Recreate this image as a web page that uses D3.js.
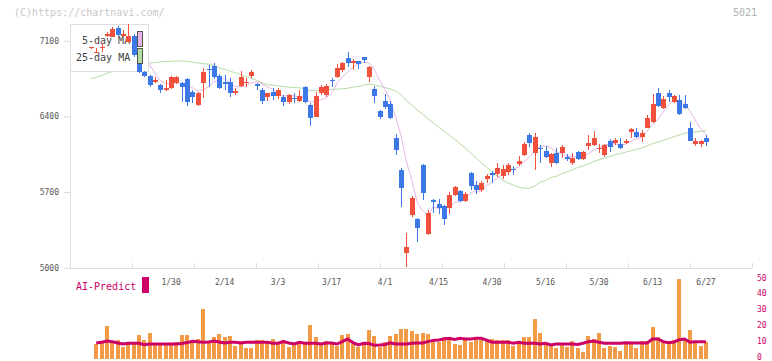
<!DOCTYPE html>
<html>
<head>
<meta charset="utf-8">
<script src="https://cdn.jsdelivr.net/npm/d3@7"></script>
<style>
body { margin: 0; background: #fff; }
text { font-family: "DejaVu Sans Mono", monospace; }
</style>
</head>
<body>
<div id="chart"></div>
<script>
// daily candles, 1/10 .. 6/27 (index 15 = 1/30)
var opens = [7030,6990,7035,7145,7137,7215,7140,7090,7143,6980,
  6813,6776,6720,6690,6645,6660,6710,6711,6746,6628,
  6505,6711,6840,6866,6773,6715,6721,6613,6680,6705,
  6773,6700,6644,6575,6628,6591,6582,6536,6573,6545,
  6668,6505,6397,6619,6600,6740,6767,6829,6937,6890,
  6910,6947,6767,6653,6450,6542,6510,6197,5904,5139,
  5488,5451,5950,5312,5630,5590,5570,5555,5673,5710,
  5617,5879,5765,5719,5820,5872,5867,5848,5888,5910,
  5959,6043,6228,6058,6110,6080,5966,6064,6064,6027,
  5966,6073,6003,6130,6135,6100,6043,6175,6156,6144,
  6156,6258,6258,6212,6295,6350,6613,6480,6613,6536,
  6551,6514,6290,6144,6140,6197];
var highs = [7045,7033,7080,7180,7224,7236,7200,7250,7162,6990,
  6820,6785,6760,6700,6735,6775,6775,6720,6755,6640,
  6630,6847,6875,6890,6790,6782,6752,6660,6822,6752,
  6829,6710,6660,6620,6660,6660,6600,6610,6613,6644,
  6680,6520,6628,6690,6700,6758,6881,6900,6998,6930,
  6912,6950,6870,6684,6455,6607,6542,6234,5925,5318,
  5666,5460,5955,5534,5635,5635,5580,5703,5760,5720,
  5700,5885,5802,5800,5867,5897,5971,5950,5971,5940,
  6033,6163,6249,6249,6135,6126,6058,6105,6135,6052,
  6058,6080,6080,6228,6265,6144,6140,6188,6200,6200,
  6188,6295,6295,6274,6412,6607,6660,6585,6644,6595,
  6597,6597,6350,6197,6185,6228];
var lows = [7025,6985,6995,7135,7130,7145,7130,7085,6950,6800,
  6765,6675,6705,6615,6635,6650,6700,6536,6499,6526,
  6500,6570,6675,6745,6650,6644,6582,6600,6674,6668,
  6752,6640,6510,6545,6555,6560,6500,6510,6526,6536,
  6520,6314,6390,6600,6582,6675,6752,6810,6860,6830,
  6840,6890,6720,6526,6375,6465,6375,6043,5564,5009,
  5472,5240,5626,5305,5509,5497,5395,5497,5666,5610,
  5610,5719,5682,5700,5786,5786,5842,5820,5857,5860,
  5940,6033,6113,5904,5971,6012,5929,5960,6012,5990,
  5950,5995,5995,6089,6130,6064,6027,6073,6135,6095,
  6140,6203,6200,6163,6290,6340,6484,6465,6536,6525,
  6412,6465,6170,6126,6120,6126];
var closes = [7040,7000,7045,7165,7205,7153,7160,7140,6967,6815,
  6776,6690,6735,6640,6665,6767,6767,6674,6536,6582,
  6619,6808,6825,6767,6660,6700,6613,6637,6760,6715,
  6813,6680,6545,6613,6591,6644,6536,6598,6563,6591,
  6536,6387,6588,6668,6680,6730,6850,6897,6890,6915,
  6887,6920,6857,6591,6397,6489,6387,6089,5740,5194,
  5648,5365,5694,5509,5605,5550,5450,5673,5749,5617,
  5682,5759,5719,5786,5848,5862,5920,5910,5950,5900,
  5990,6144,6156,6212,6100,6027,6052,5966,6114,6003,
  6018,6003,6073,6156,6197,6110,6135,6119,6181,6110,
  6175,6280,6212,6249,6388,6514,6496,6558,6576,6588,
  6419,6474,6175,6175,6170,6166];

// lower panel
var volumes = [null,9.1,9.9,20.4,10.6,11.6,7.4,9.1,9.6,14.8,
  11.6,16,9.1,9.1,9.1,9.1,10.2,14.8,14.8,11,
  12.3,31.1,10.2,13.7,15.4,13.7,14.2,8.1,11,6.8,
  6.8,11.6,11.6,9.6,12.3,10.6,11.6,7.4,8.5,9.6,
  9.6,21,13.7,9.1,11,10.2,7.8,14.8,15.4,9.1,
  7.4,9.6,17.9,14.2,7.4,10.2,14.2,15.4,18.6,18.6,
  17.4,15.4,16.3,15.4,11,10.6,13.7,13.7,9.1,8.5,
  11.6,10.6,12.7,13.7,11.6,12.3,11.6,11.6,11.6,8.1,
  9.1,13.7,13.7,24.8,16.3,9.6,8.5,6.8,8.5,7.4,
  11,6.8,3.9,14.2,12.3,15.8,6.4,7.9,7.4,4.9,
  9.1,9.1,6.8,11,11,20,13.7,10.6,9.9,11.6,
  50,12.3,17.9,10.2,8.1,10.2];
var aiPredict = [null,9.8,10.2,11,10.6,9.8,9.1,9.6,9.6,9.6,
  8.7,9.1,9.1,9.1,9.1,9.1,9.1,9.4,10,10.8,
  10.6,10.2,10.4,11,10.4,9.8,10.2,10.2,9.8,10.2,
  10.2,10.2,10.2,10.2,9.6,9.6,10.6,9.8,9.1,10.2,
  9.6,9.6,9.6,9.1,9.8,9.8,9.1,10.6,12.3,10,
  8.5,9.6,9.4,8.3,8.5,8.8,9.8,9.1,9.1,9.1,
  9.6,9.8,9.8,10.6,11.4,11.6,12.3,12.7,12,12.7,
  12.3,12.3,12.7,12.7,11.6,10.2,10.2,10.2,10.2,9.6,
  10.2,9.6,9.6,9.6,9.1,9.6,8.5,9.1,9.1,9.1,
  9.1,8.8,9.6,10.6,11,10.2,9.6,9.6,9.6,9.6,
  9.9,9.8,9.8,9.8,9.8,12.3,12.3,10.6,9.9,10.4,
  11.8,12.3,10.2,10.6,10.6,10.6];

// 25-day MA for the first days (earlier closes are off the chart)
var ma25Head = [6750,6761,6778,6797,6815,6830,6840,6850,6860,6870,
  6880,6894,6898,6903,6907,6909,6912,6912,6909,6903,6894,6889,6882,6875];

var dateLabels = ["1/30","2/14","3/3","3/17","4/1","4/15","4/30","5/16","5/30","6/13","6/27"];
var dateIdx = [15,25,35,45,55,65,75,85,95,105,115];
var priceTicks = [5000,5700,6400,7100];
var volTicks = [0,10,20,30,40,50];

var W = 772, H = 361;
var plot = { left: 70, right: 752, top: 24, bottom: 268 };
var upColor = "#f0503c", downColor = "#3c78e8";
var aiColor = "#cc0066";

function movingAvg(n, head) {
    return closes.map(function(c, i) {
        if (i < n - 1) return head ? head[i] : null;
        return d3.mean(closes.slice(i - n + 1, i + 1));
    });
}
var ma5 = movingAvg(5, null);
var ma25 = movingAvg(25, ma25Head);

var x = d3.scaleLinear().domain([-3.9, 123.6]).range([plot.left, plot.right]);
var y = d3.scaleLinear().domain([5000, 7100]).range([267.7, 40.7]);
var v = d3.scaleLinear().domain([0, 50]).range([358.5, 279]);
var gridX = d3.scaleLinear().domain([0, 11]).range([plot.left, plot.right]);

var svg = d3.select("#chart").append("svg")
    .attr("width", W)
    .attr("height", H);

svg.append("text")
    .attr("x", 14).attr("y", 16)
    .style("font-size", "10px")
    .attr("fill", "#c8c8c8")
    .text("(C)https://chartnavi.com/");
svg.append("text")
    .attr("x", 757).attr("y", 16)
    .attr("text-anchor", "end")
    .style("font-size", "10px")
    .attr("fill", "#b0b0b0")
    .text("5021");

// frame
svg.append("line")
    .attr("x1", plot.left + 0.5).attr("x2", plot.left + 0.5)
    .attr("y1", plot.top).attr("y2", plot.bottom)
    .attr("stroke", "#ddd");
svg.append("line")
    .attr("x1", plot.left).attr("x2", plot.right)
    .attr("y1", plot.bottom + 0.5).attr("y2", plot.bottom + 0.5)
    .attr("stroke", "#ddd");
svg.append("g").selectAll("line")
    .data(d3.range(12))
    .join("line")
    .attr("x1", function(k) { return Math.round(gridX(k)) + 0.5; })
    .attr("x2", function(k) { return Math.round(gridX(k)) + 0.5; })
    .attr("y1", plot.bottom - 5).attr("y2", plot.bottom)
    .attr("stroke", "#ddd");

var yAxis = d3.axisLeft(y).tickValues(priceTicks).tickFormat(d3.format("d"))
    .tickSize(6).tickPadding(5);
var gy = svg.append("g")
    .attr("transform", "translate(" + plot.left + ",0)")
    .call(yAxis);
gy.select(".domain").remove();
gy.selectAll("line").attr("stroke", "#ddd");
gy.selectAll("text")
    .attr("fill", "#555")
    .style("font-size", "8px")
    .style("font-family", "DejaVu Sans Mono, monospace");

// moving averages
var maLine = d3.line()
    .defined(function(d) { return d != null; })
    .x(function(d, i) { return x(i); })
    .y(function(d) { return y(d); });
svg.append("path").datum(ma25)
    .attr("d", maLine)
    .attr("fill", "none")
    .attr("stroke", "#b4dca0")
    .attr("stroke-width", 1);
svg.append("path").datum(ma5)
    .attr("d", maLine)
    .attr("fill", "none")
    .attr("stroke", "#e8b4e8")
    .attr("stroke-width", 1);

// legend box sits under the candles
svg.append("rect")
    .attr("x", 70.5).attr("y", 24.5)
    .attr("width", 78).attr("height", 47)
    .attr("fill", "#fff")
    .attr("stroke", "#ddd");
svg.append("text")
    .attr("x", 82).attr("y", 44)
    .style("font-size", "10px")
    .attr("fill", "#444")
    .text("5-day MA");
svg.append("text")
    .attr("x", 76).attr("y", 61)
    .style("font-size", "10px")
    .attr("fill", "#444")
    .text("25-day MA");

// candles
var candles = svg.append("g").attr("shape-rendering", "crispEdges");
var idx = d3.range(closes.length);
candles.selectAll("line")
    .data(idx)
    .join("line")
    .attr("x1", function(i) { return Math.round(x(i)) + 0.5; })
    .attr("x2", function(i) { return Math.round(x(i)) + 0.5; })
    .attr("y1", function(i) { return y(highs[i]); })
    .attr("y2", function(i) { return y(lows[i]); })
    .attr("stroke", function(i) { return closes[i] >= opens[i] ? upColor : downColor; });
candles.selectAll("rect")
    .data(idx)
    .join("rect")
    .attr("x", function(i) { return Math.round(x(i)) - 2; })
    .attr("width", 5)
    .attr("y", function(i) { return y(Math.max(opens[i], closes[i])); })
    .attr("height", function(i) { return Math.max(1, Math.abs(y(opens[i]) - y(closes[i]))); })
    .attr("fill", function(i) { return closes[i] >= opens[i] ? upColor : downColor; });

// legend swatches
svg.append("rect")
    .attr("x", 137.5).attr("y", 31.5)
    .attr("width", 5).attr("height", 15)
    .attr("fill", "#e8b4e8").attr("stroke", "#555");
svg.append("rect")
    .attr("x", 137.5).attr("y", 48.5)
    .attr("width", 5).attr("height", 15)
    .attr("fill", "#b4dca0").attr("stroke", "#555");

// date labels
svg.append("g").selectAll("text")
    .data(dateIdx)
    .join("text")
    .attr("x", function(i) { return x(i); })
    .attr("y", 285)
    .attr("text-anchor", "middle")
    .style("font-size", "8px")
    .attr("fill", "#555")
    .text(function(i, k) { return dateLabels[k]; });

// lower panel
svg.append("text")
    .attr("x", 76).attr("y", 290)
    .style("font-size", "10px")
    .attr("fill", aiColor)
    .text("AI-Predict");
svg.append("rect")
    .attr("x", 142).attr("y", 277)
    .attr("width", 7).attr("height", 16)
    .attr("fill", aiColor);

svg.append("g").attr("shape-rendering", "crispEdges")
    .selectAll("rect")
    .data(idx.filter(function(i) { return volumes[i] != null; }))
    .join("rect")
    .attr("x", function(i) { return Math.round(x(i)) - 2; })
    .attr("width", 4)
    .attr("y", function(i) { return v(volumes[i]); })
    .attr("height", function(i) { return v(0) - v(volumes[i]); })
    .attr("fill", "#f29a46");

var aiLine = d3.line()
    .defined(function(d) { return d != null; })
    .x(function(d, i) { return x(i); })
    .y(function(d) { return v(d); });
svg.append("path").datum(aiPredict)
    .attr("d", aiLine)
    .attr("fill", "none")
    .attr("stroke", aiColor)
    .attr("stroke-width", 3);

var vAxis = d3.axisRight(v).tickValues(volTicks).tickSize(0).tickPadding(0);
var gv = svg.append("g")
    .attr("transform", "translate(757,-1.5)")
    .call(vAxis);
gv.select(".domain").remove();
gv.selectAll("text")
    .attr("fill", aiColor)
    .style("font-size", "8px")
    .style("font-family", "DejaVu Sans Mono, monospace");
</script>
</body>
</html>
